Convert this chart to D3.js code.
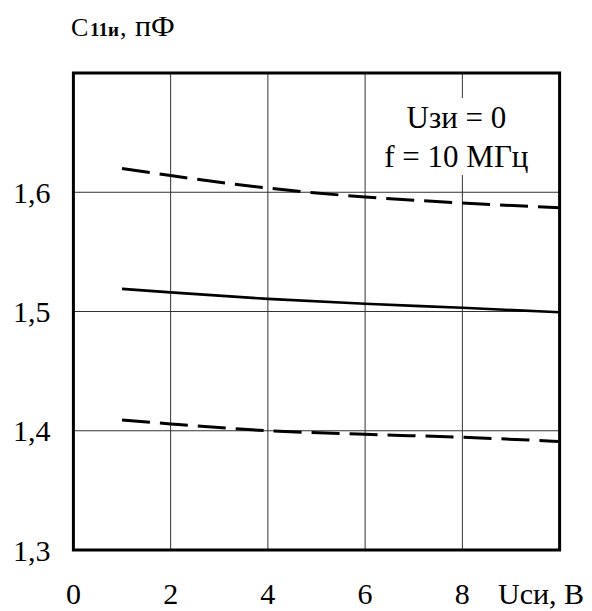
<!DOCTYPE html>
<html>
<head>
<meta charset="utf-8">
<script src="https://cdn.jsdelivr.net/npm/d3@7"></script>
<style>
  body { margin: 0; background: #fff; }
</style>
</head>
<body>
<script>
//data
var xVals = [1, 2, 4, 6, 8, 10];
var upperVals = [1.620, 1.614, 1.6035, 1.596, 1.591, 1.587];
var middleVals = [1.519, 1.516, 1.5106, 1.5065, 1.5031, 1.4994];
var lowerVals = [1.409, 1.4057, 1.400, 1.397, 1.3945, 1.391];
var xTicks = [0, 2, 4, 6, 8];
var yTicks = [1.3, 1.4, 1.5, 1.6];

var FONT = "Liberation Serif";

//plot box
var margin = {top: 73, left: 73.4},
    W = 592, H = 611;

//scales
var x = d3.scaleLinear().domain([0, 10]).range([0, 486.2]);
var y = d3.scaleLinear().domain([1.3, 1.7]).range([477, 0]);

var svg = d3.select("body").append("svg")
    .attr("width", W)
    .attr("height", H)
    .attr("font-family", FONT);

var g = svg.append("g")
    .attr("transform", "translate(" + margin.left + "," + margin.top + ")");

//vertical grid lines
g.selectAll(".vgrid")
    .data([2, 4, 6, 8])
    .enter().append("line")
    .attr("x1", d => x(d)).attr("x2", d => x(d))
    .attr("y1", 0).attr("y2", y(1.3))
    .attr("stroke", "#333").attr("stroke-width", 1);

//horizontal grid lines
g.selectAll(".hgrid")
    .data([1.4, 1.5, 1.6])
    .enter().append("line")
    .attr("x1", 0).attr("x2", x(10))
    .attr("y1", d => y(d)).attr("y2", d => y(d))
    .attr("stroke", "#333").attr("stroke-width", 1);

//white box behind the note
g.append("rect")
    .attr("x", 306).attr("y", 25)
    .attr("width", 156).attr("height", 77)
    .attr("fill", "#fff");

//note
g.append("text")
    .attr("x", x(8) - 6).attr("y", 55)
    .attr("text-anchor", "middle")
    .attr("font-size", 31)
    .text("Uзи = 0");
g.append("text")
    .attr("x", x(8) - 6).attr("y", 94)
    .attr("text-anchor", "middle")
    .attr("font-size", 31)
    .text("f = 10 МГц");

//curves
var line = d3.line()
    .x((d, i) => x(xVals[i]))
    .y(d => y(d))
    .curve(d3.curveMonotoneX);

g.append("path")
    .attr("d", line(upperVals))
    .attr("fill", "none").attr("stroke", "#000")
    .attr("stroke-width", 3)
    .attr("stroke-dasharray", "28,10");
g.append("path")
    .attr("d", line(middleVals))
    .attr("fill", "none").attr("stroke", "#000")
    .attr("stroke-width", 2.6);
g.append("path")
    .attr("d", line(lowerVals))
    .attr("fill", "none").attr("stroke", "#000")
    .attr("stroke-width", 3)
    .attr("stroke-dasharray", "28,10");

//frame
g.append("rect")
    .attr("x", 0).attr("y", 0)
    .attr("width", x(10)).attr("height", y(1.3))
    .attr("fill", "none").attr("stroke", "#000")
    .attr("stroke-width", 3);

//y tick labels
g.selectAll(".ylab")
    .data(yTicks)
    .enter().append("text")
    .attr("x", -23).attr("y", d => y(d))
    .attr("dy", "0.35em")
    .attr("text-anchor", "end")
    .attr("font-size", 30)
    .text(d => d3.format(".1f")(d).replace(".", ","));

//x tick labels
g.selectAll(".xlab")
    .data(xTicks)
    .enter().append("text")
    .attr("x", d => x(d)).attr("y", 531)
    .attr("text-anchor", "middle")
    .attr("font-size", 30)
    .text(d => d);

//axis titles
svg.append("text")
    .attr("x", 498).attr("y", 604)
    .attr("font-size", 30)
    .text("Uси, В");

var title = svg.append("text")
    .attr("y", 36)
    .attr("font-size", 26);
title.append("tspan").attr("x", 71).text("C");
title.append("tspan").attr("x", 90).attr("font-size", 19).attr("font-weight", "bold").text("11и");
title.append("tspan").attr("x", 120).text(",");
title.append("tspan").attr("x", 135).attr("font-size", 30).text("пФ");
</script>
</body>
</html>
